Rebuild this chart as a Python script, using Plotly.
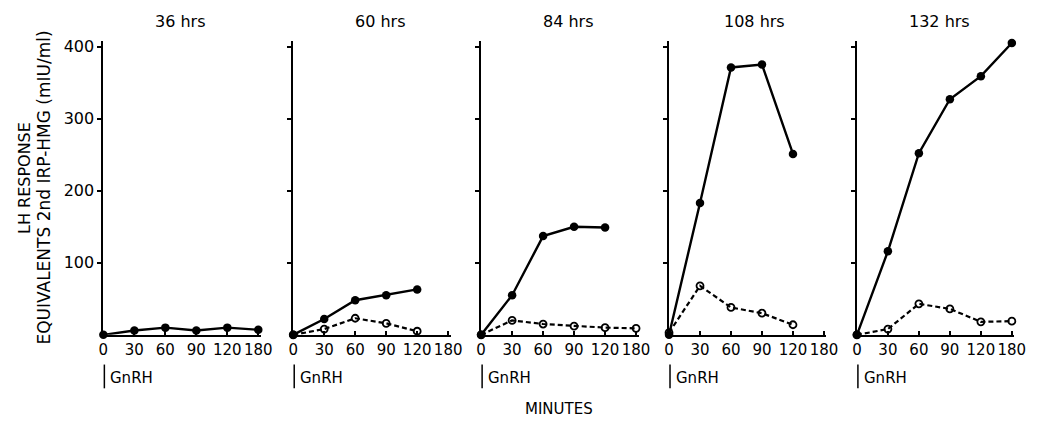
import plotly.graph_objects as go

# ---- data ----
tick_labels = ["0", "30", "60", "90", "120", "180"]
positions = [0, 1, 2, 3, 4, 5]
panel_titles = ["36 hrs", "60 hrs", "84 hrs", "108 hrs", "132 hrs"]

solid_36 = [0, 6, 10, 6, 10, 7]
dashed_36 = [None, None, None, None, None, None]

solid_60 = [0, 22, 48, 55, 63, None]
dashed_60 = [0, 8, 23, 16, 5, None]

solid_84 = [0, 55, 137, 150, 149, None]
dashed_84 = [0, 20, 15, 12, 10, 9]

solid_108 = [0, 183, 371, 375, 251, None]
dashed_108 = [3, 68, 38, 30, 14, None]

solid_132 = [0, 116, 252, 327, 359, 405]
dashed_132 = [0, 8, 43, 36, 18, 19]

solid_series = [solid_36, solid_60, solid_84, solid_108, solid_132]
dashed_series = [dashed_36, dashed_60, dashed_84, dashed_108, dashed_132]

y_ticks = [100, 200, 300, 400]

# ---- layout geometry ----
W, H = 1046, 422
lefts = [100, 293, 484, 675, 866]
title_centers = [178, 382, 573, 762, 950]
panel_w = 160
ymax = 408
px_per_unit = (334 - 43) / 400.0
top_px = 334 - ymax * px_per_unit
bot_px = 334
ydom = [1 - bot_px / H, 1 - top_px / H]

FONT = "DejaVu Sans"
fig = go.Figure()
layout = dict(
    width=W, height=H, margin=dict(l=0, r=0, t=0, b=0),
    paper_bgcolor="white", plot_bgcolor="white", showlegend=False,
    font=dict(family=FONT, color="black", size=13),
)
annotations = []
shapes = []
for i in range(5):
    xa = "x" if i == 0 else f"x{i+1}"
    ya = "y" if i == 0 else f"y{i+1}"
    xk = "xaxis" if i == 0 else f"xaxis{i+1}"
    yk = "yaxis" if i == 0 else f"yaxis{i+1}"
    x0 = lefts[i] / W
    x1 = (lefts[i] + panel_w) / W
    layout[xk] = dict(
        domain=[x0, x1], range=[0, 5.08], anchor=ya,
        tickmode="array", tickvals=positions, ticktext=tick_labels,
        ticks="inside", ticklen=4, tickwidth=1.5, tickcolor="black",
        showline=True, linecolor="black", linewidth=2, showgrid=False,
        zeroline=False, tickfont=dict(size=15, family=FONT),
    )
    layout[yk] = dict(
        domain=ydom, range=[0, ymax], anchor=xa,
        tickmode="array", tickvals=y_ticks,
        ticktext=[str(v) for v in y_ticks] if i == 0 else ["" for _ in y_ticks],
        ticks="outside", ticklen=4, tickwidth=1.5, tickcolor="black",
        showline=True, linecolor="black", linewidth=2, showgrid=False,
        zeroline=False, tickfont=dict(size=16, family=FONT),
    )
    fig.add_trace(go.Scatter(
        x=positions, y=dashed_series[i], xaxis=xa, yaxis=ya, mode="lines+markers",
        line=dict(color="black", width=2.2, dash="5px,3px"),
        marker=dict(symbol="circle-open", size=7, color="black", line=dict(width=1.8)),
        cliponaxis=False, connectgaps=False,
    ))
    fig.add_trace(go.Scatter(
        x=positions, y=solid_series[i], xaxis=xa, yaxis=ya, mode="lines+markers",
        line=dict(color="black", width=2.4),
        marker=dict(symbol="circle", size=8.5, color="black"),
        cliponaxis=False, connectgaps=False,
    ))
    # panel title
    annotations.append(dict(
        text=panel_titles[i], x=title_centers[i] / W, y=1 - 18 / H,
        xref="paper", yref="paper", showarrow=False,
        font=dict(size=16, family=FONT), xanchor="center", yanchor="middle",
    ))
    # GnRH arrow
    ax = (lefts[i] + 1) / W
    shapes.append(dict(type="line", xref="paper", yref="paper",
                       x0=ax, x1=ax, y0=1 - 388 / H, y1=1 - 364 / H,
                       line=dict(color="black", width=1.5)))
    annotations.append(dict(
        text="GnRH", x=(lefts[i] + 5) / W, y=1 - 378 / H,
        xref="paper", yref="paper", showarrow=False,
        font=dict(size=15, family=FONT), xanchor="left", yanchor="middle",
    ))

annotations.append(dict(
    text="MINUTES", x=563 / W, y=1 - 409 / H, xref="paper", yref="paper",
    showarrow=False, font=dict(size=15, family=FONT), xanchor="center", yanchor="middle",
))
annotations.append(dict(
    text="LH RESPONSE", x=20 / W, y=1 - 176 / H, xref="paper", yref="paper",
    showarrow=False, textangle=-90, font=dict(size=16, family=FONT),
    xanchor="center", yanchor="middle",
))
annotations.append(dict(
    text="EQUIVALENTS 2nd IRP-HMG (mIU/ml)", x=40 / W, y=1 - 185 / H,
    xref="paper", yref="paper", showarrow=False, textangle=-90,
    font=dict(size=17, family=FONT), xanchor="center", yanchor="middle",
))
layout["annotations"] = annotations
layout["shapes"] = shapes
fig.update_layout(**layout)
fig.write_html("out.html")
